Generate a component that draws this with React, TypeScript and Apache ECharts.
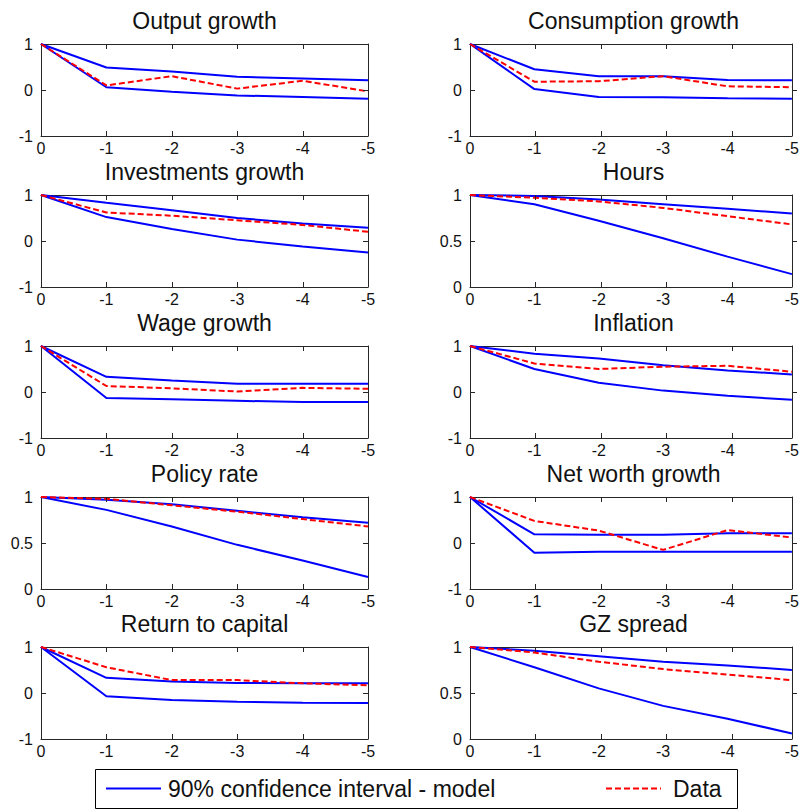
import { useEffect, useRef } from "react";
import * as echarts from "echarts";

// Horizon (quarters) shown on every x axis
const horizons = [0, -1, -2, -3, -4, -5];

const panelTitles = [
  "Output growth",
  "Consumption growth",
  "Investments growth",
  "Hours",
  "Wage growth",
  "Inflation",
  "Policy rate",
  "Net worth growth",
  "Return to capital",
  "GZ spread",
];

// Model 90% band (upper / lower) and data autocorrelations, per variable
const outputUpper = [1, 0.49, 0.4, 0.29, 0.25, 0.21];
const outputLower = [1, 0.06, -0.04, -0.12, -0.15, -0.19];
const outputData = [1, 0.1, 0.3, 0.03, 0.2, -0.03];

const consumptionUpper = [1, 0.45, 0.3, 0.3, 0.22, 0.21];
const consumptionLower = [1, 0.02, -0.15, -0.16, -0.18, -0.19];
const consumptionData = [1, 0.18, 0.19, 0.3, 0.08, 0.06];

const investmentUpper = [1, 0.83, 0.67, 0.5, 0.38, 0.29];
const investmentLower = [1, 0.52, 0.26, 0.03, -0.12, -0.25];
const investmentData = [1, 0.62, 0.55, 0.45, 0.35, 0.2];

const hoursUpper = [1, 0.99, 0.95, 0.9, 0.85, 0.8];
const hoursLower = [1, 0.9, 0.72, 0.53, 0.33, 0.14];
const hoursData = [1, 0.97, 0.93, 0.86, 0.77, 0.68];

const wageUpper = [1, 0.33, 0.25, 0.18, 0.18, 0.18];
const wageLower = [1, -0.13, -0.16, -0.19, -0.22, -0.22];
const wageData = [1, 0.13, 0.08, 0.01, 0.09, 0.07];

const inflationUpper = [1, 0.83, 0.73, 0.58, 0.47, 0.38];
const inflationLower = [1, 0.5, 0.2, 0.03, -0.08, -0.17];
const inflationData = [1, 0.62, 0.5, 0.55, 0.57, 0.44];

const policyUpper = [1, 0.97, 0.92, 0.85, 0.78, 0.72];
const policyLower = [1, 0.86, 0.68, 0.48, 0.31, 0.13];
const policyData = [1, 0.98, 0.91, 0.84, 0.76, 0.68];

const netWorthUpper = [1, 0.19, 0.18, 0.18, 0.21, 0.21];
const netWorthLower = [1, -0.21, -0.19, -0.19, -0.19, -0.19];
const netWorthData = [1, 0.48, 0.27, -0.15, 0.28, 0.12];

const capitalUpper = [1, 0.33, 0.25, 0.22, 0.21, 0.21];
const capitalLower = [1, -0.07, -0.15, -0.19, -0.21, -0.22];
const capitalData = [1, 0.56, 0.28, 0.28, 0.21, 0.17];

const spreadUpper = [1, 0.96, 0.9, 0.84, 0.8, 0.75];
const spreadLower = [1, 0.78, 0.55, 0.36, 0.22, 0.06];
const spreadData = [1, 0.94, 0.84, 0.76, 0.7, 0.64];

// Lower bound of each panel's y axis (upper bound is always 1)
const yMins = [-1, -1, -1, 0, -1, -1, 0, -1, -1, 0];

const bandName = "90% confidence interval - model";
const dataName = "Data";

const panels = [
  [outputUpper, outputLower, outputData],
  [consumptionUpper, consumptionLower, consumptionData],
  [investmentUpper, investmentLower, investmentData],
  [hoursUpper, hoursLower, hoursData],
  [wageUpper, wageLower, wageData],
  [inflationUpper, inflationLower, inflationData],
  [policyUpper, policyLower, policyData],
  [netWorthUpper, netWorthLower, netWorthData],
  [capitalUpper, capitalLower, capitalData],
  [spreadUpper, spreadLower, spreadData],
];

const FONT = "'Liberation Sans', Arial, sans-serif";
const AXIS_COLOR = "#262626";
const TEXT_COLOR = "#111111";
const BLUE = "#0000ff";
const RED = "#ff0000";
const DASH = [6, 3];
const TICK_LEN = 5;

const colLeft = [41, 470];
const plotWidth = 327;
const rowTop = [44, 195, 346, 497, 647];
const plotHeight = 92;

function buildLegend() {
  const boxX = 95;
  const boxY = 769;
  const boxW = 642;
  const boxH = 39;
  const midY = boxY + boxH / 2;
  const textStyle = {
    fontFamily: FONT,
    fontSize: 23,
    fill: TEXT_COLOR,
    verticalAlign: "middle",
    align: "left",
  };
  return [
    {
      type: "rect",
      shape: { x: boxX + 0.5, y: boxY + 0.5, width: boxW, height: boxH },
      style: { fill: "#ffffff", stroke: "#000000", lineWidth: 1 },
    },
    {
      type: "line",
      shape: { x1: 106, y1: midY, x2: 161, y2: midY },
      style: { stroke: BLUE, lineWidth: 2 },
    },
    {
      type: "text",
      x: 168,
      y: midY,
      style: { ...textStyle, text: bandName },
    },
    {
      type: "line",
      shape: { x1: 606, y1: midY, x2: 661, y2: midY },
      style: { stroke: RED, lineWidth: 2, lineDash: DASH },
    },
    {
      type: "text",
      x: 673,
      y: midY,
      style: { ...textStyle, text: dataName },
    },
  ];
}

// Inward tick marks on all four sides of each panel frame
function buildFrameTicks() {
  const out: any[] = [];
  const style = { stroke: AXIS_COLOR, lineWidth: 1 };
  yMins.forEach((yMin, i) => {
    const left = colLeft[i % 2];
    const top = rowTop[Math.floor(i / 2)];
    const bottom = top + plotHeight;
    const right = left + plotWidth;
    const xSteps = horizons.length - 1;
    for (let k = 1; k < xSteps; k++) {
      const x = Math.round(left + (plotWidth * k) / xSteps) + 0.5;
      out.push({
        type: "line",
        z: 10,
        shape: { x1: x, y1: bottom, x2: x, y2: bottom - TICK_LEN },
        style,
      });
      out.push({
        type: "line",
        z: 10,
        shape: { x1: x, y1: top, x2: x, y2: top + TICK_LEN },
        style,
      });
    }
    const ySteps = yMin === 0 ? 2 : 2;
    for (let k = 1; k < ySteps; k++) {
      const y = Math.round(top + (plotHeight * k) / ySteps) + 0.5;
      out.push({
        type: "line",
        z: 10,
        shape: { x1: left, y1: y, x2: left + TICK_LEN, y2: y },
        style,
      });
      out.push({
        type: "line",
        z: 10,
        shape: { x1: right, y1: y, x2: right - TICK_LEN, y2: y },
        style,
      });
    }
  });
  return out;
}

function buildOption() {
  const grid: any[] = [];
  const title: any[] = [];
  const xAxis: any[] = [];
  const yAxis: any[] = [];
  const series: any[] = [];

  panels.forEach((panel, i) => {
    const col = i % 2;
    const row = Math.floor(i / 2);
    const left = colLeft[col];
    const top = rowTop[row];

    grid.push({
      left,
      top,
      width: plotWidth,
      height: plotHeight,
      show: false,
    });

    title.push({
      text: panelTitles[i],
      left: left + plotWidth / 2,
      top: top - 35,
      textAlign: "center",
      padding: 0,
      textStyle: {
        fontFamily: FONT,
        fontSize: 23,
        fontWeight: "normal",
        color: TEXT_COLOR,
      },
    });

    ["bottom", "top"].forEach((pos) => {
      xAxis.push({
        gridIndex: i,
        type: "value",
        position: pos,
        min: -5,
        max: 0,
        interval: 1,
        inverse: true,
        axisLine: {
          show: true,
          onZero: false,
          lineStyle: { color: AXIS_COLOR, width: 1 },
        },
        axisTick: { show: false },
        splitLine: { show: false },
        axisLabel: {
          show: pos === "bottom",
          margin: 4,
          fontFamily: FONT,
          fontSize: 16,
          color: TEXT_COLOR,
        },
      });
    });

    const yMin = yMins[i];
    ["left", "right"].forEach((pos) => {
      yAxis.push({
        gridIndex: i,
        type: "value",
        position: pos,
        min: yMin,
        max: 1,
        interval: yMin === 0 ? 0.5 : 1,
        axisLine: {
          show: true,
          onZero: false,
          lineStyle: { color: AXIS_COLOR, width: 1 },
        },
        axisTick: { show: false },
        splitLine: { show: false },
        axisLabel: {
          show: pos === "left",
          margin: 8,
          fontFamily: FONT,
          fontSize: 16,
          color: TEXT_COLOR,
        },
      });
    });

    const [upper, lower, data] = panel;
    const toPoints = (vals: number[]) => horizons.map((h, k) => [h, vals[k]]);
    [upper, lower].forEach((vals) => {
      series.push({
        name: bandName,
        type: "line",
        xAxisIndex: 2 * i,
        yAxisIndex: 2 * i,
        data: toPoints(vals),
        symbol: "none",
        lineStyle: { color: BLUE, width: 2 },
        itemStyle: { color: BLUE },
      });
    });
    series.push({
      name: dataName,
      type: "line",
      xAxisIndex: 2 * i,
      yAxisIndex: 2 * i,
      data: toPoints(data),
      symbol: "none",
      z: 3,
      lineStyle: { color: RED, width: 2, type: DASH },
      itemStyle: { color: RED },
    });
  });

  return {
    animation: false,
    backgroundColor: "#ffffff",
    title,
    grid,
    xAxis,
    yAxis,
    series,
    graphic: [...buildFrameTicks(), ...buildLegend()],
  };
}

export default function App() {
  const ref = useRef<HTMLDivElement>(null);

  useEffect(() => {
    document.body.style.margin = "0";
    if (!ref.current) return;
    const chart = echarts.init(ref.current, null, { renderer: "svg" });
    chart.setOption(buildOption() as any);
    return () => chart.dispose();
  }, []);

  return <div ref={ref} style={{ width: 802, height: 810 }} />;
}
